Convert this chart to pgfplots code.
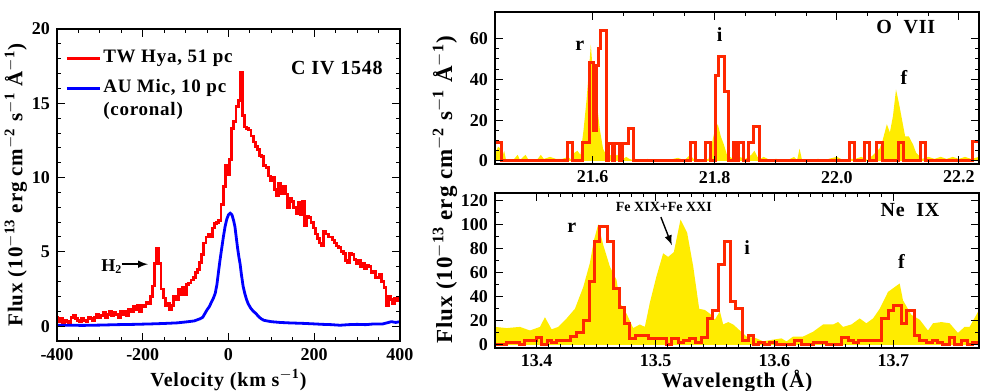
\documentclass[border=0pt]{standalone}
\usepackage{fontspec}
\setmainfont{Liberation Serif}
\usepackage{pgfplots}
\pgfplotsset{compat=1.18}
\definecolor{hred}{RGB}{255,0,0}
\definecolor{hblue}{RGB}{0,0,255}
\definecolor{xred}{RGB}{255,40,0}
\definecolor{xyel}{RGB}{255,236,0}
\newcommand{\lblfont}[1]{\fontsize{#1}{#1}\selectfont\bfseries\addfontfeature{LetterSpace=4}}
\pgfplotsset{idl/.style={scale only axis, anchor=south west, axis on top,
  tick align=inside, xtick pos=both, ytick pos=both,
  xticklabel pos=bottom, yticklabel pos=left,
  major tick length=4pt, minor tick length=2pt,
  every tick/.style={black, line width=0.5pt},
  axis line style={line width=0.7pt},
  /pgf/number format/assume math mode=true,
  ticklabel style={font=\fontsize{9}{10}\selectfont\bfseries},
  clip=true}}
\begin{document}
\begin{tikzpicture}
\useasboundingbox (0,0) rectangle (490.5pt,195.5pt);
% ---------------- left panel -------------
\begin{axis}[idl, at={(28.5pt,25pt)}, width=171.5pt, height=156pt,
  xmin=-400, xmax=400, ymin=-1, ymax=20,
  xtick={-400,-200,...,400}, minor x tick num=3,
  ytick={0,5,...,20}, minor y tick num=4,
  xlabel={Velocity (km s$^{\mathbf{-1}}$)},
  ylabel={Flux (10$^{\mathbf{-13}}$ erg cm$^{\mathbf{-2}}$ s$^{\mathbf{-1}}$ Å$^{\mathbf{-1}}$)},
  every axis x label/.style={at={(axis description cs:0.5,0)}, anchor=center, yshift=-19.5pt, font=\lblfont{10}},
  every axis y label/.style={at={(axis description cs:-0.12,0.5)}, anchor=center, rotate=90, font=\lblfont{10.5}}]
\addplot[const plot mark mid, hred, line width=1.4pt] coordinates {
(-400,0.6)(-395,0.3)(-390,0.5)(-385,0.2)(-380,0.4)(-375,0.3)(-370,0.2)(-365,0.6)(-360,0.7)(-355,0.5)
(-350,0.4)(-345,0.3)(-340,0.5)(-335,0.4)(-330,0.3)(-325,0.6)(-320,0.5)(-315,0.4)(-310,0.6)(-305,0.8)
(-300,0.6)(-295,0.7)(-290,0.9)(-285,0.6)(-280,0.8)(-275,1.0)(-270,0.7)(-265,0.9)(-260,0.8)(-255,0.6)
(-250,1.0)(-245,0.8)(-240,1.0)(-235,0.7)(-230,1.1)(-225,1.0)(-220,1.3)(-215,1.1)(-210,1.4)(-205,1.0)
(-200,1.4)(-195,1.3)(-190,1.6)(-185,1.5)(-180,2.0)(-175,2.7)(-170,4.2)(-165,5.2)(-160,4.2)(-155,2.5)
(-150,1.9)(-145,1.4)(-140,1.5)(-135,1.1)(-130,1.4)(-125,2.0)(-120,1.8)(-115,2.5)(-110,2.1)(-105,2.6)
(-100,2.1)(-95,2.8)(-90,2.9)(-85,3.1)(-80,3.3)(-75,3.6)(-70,3.8)(-65,4.3)(-60,4.8)(-55,5.6)
(-50,6.0)(-45,6.2)(-40,6.0)(-35,6.6)(-30,6.9)(-25,7.0)(-20,7.1)(-15,8.2)(-10,9.4)(-5,10.8)
(0,10.2)(5,11.2)(10,13.3)(15,13.8)(20,14.8)(25,15.2)(30,17.1)(35,14.2)(40,13.4)(45,13.3)
(50,13.2)(55,12.8)(60,12.4)(65,12.1)(70,11.9)(75,11.5)(80,11.4)(85,10.8)(90,10.7)(95,10.1)
(100,9.8)(105,10.0)(110,9.2)(115,8.8)(120,9.6)(125,8.9)(130,9.4)(135,8.9)(140,8.0)(145,8.6)
(150,8.4)(155,8.0)(160,7.6)(165,8.3)(170,7.5)(175,8.4)(180,6.8)(185,7.4)(190,7.3)(195,7.0)
(200,6.6)(205,6.2)(210,5.9)(215,5.6)(220,5.4)(225,6.4)(230,6.2)(235,6.0)(240,6.0)(245,5.8)
(250,5.6)(255,5.4)(260,5.3)(265,5.0)(270,4.9)(275,4.4)(280,4.3)(285,4.9)(290,4.8)(295,4.5)
(300,4.2)(305,4.4)(310,4.0)(315,4.2)(320,3.9)(325,4.1)(330,4.0)(335,3.6)(340,3.7)(345,3.3)
(350,3.3)(355,3.5)(360,3.0)(365,2.6)(370,1.4)(375,2.0)(380,1.8)(385,1.5)(390,1.9)(395,1.7)(400,1.9)};
\addplot[hblue, line width=1.4pt] coordinates {
(-400,0.05)(-370,0.06)(-340,0.05)(-300,0.07)(-260,0.1)(-220,0.12)(-180,0.15)(-150,0.18)(-120,0.22)
(-100,0.28)(-80,0.35)(-66,0.5)(-60,0.6)(-55,0.85)(-50,1.1)(-45,1.3)(-40,1.6)(-35,1.9)(-31,2.2)
(-27,2.8)(-24,3.5)(-20,4.4)(-16,5.2)(-12,6.0)(-8,6.7)(-4,7.2)(0,7.5)(4,7.6)(8,7.5)(12,7.1)(15,6.7)
(18,6.0)(21,5.3)(24,4.7)(27,4.2)(30,3.5)(34,2.7)(38,2.2)(42,1.8)(46,1.5)(52,1.2)(58,1.0)(64,0.85)
(70,0.65)(76,0.5)(82,0.4)(90,0.35)(100,0.3)(120,0.25)(140,0.22)(160,0.2)(180,0.18)(200,0.15)
(220,0.12)(240,0.1)(260,0.06)(280,0.1)(300,0.12)(320,0.1)(340,0.15)(360,0.15)(380,0.3)(390,0.25)(400,0.3)};
\draw[hred, line width=1.4pt] (axis cs:-377,18.0) -- (axis cs:-300,18.0);
\draw[hblue, line width=1.4pt] (axis cs:-377,16.0) -- (axis cs:-300,16.0);
\node[anchor=west, inner sep=0pt, font=\lblfont{9.5}] at (axis cs:-293,18.0) {TW Hya, 51 pc};
\node[anchor=west, inner sep=0pt, font=\lblfont{9.5}] at (axis cs:-293,16.0) {AU Mic, 10 pc};
\node[anchor=west, inner sep=0pt, font=\lblfont{9.5}] at (axis cs:-293,14.5) {(coronal)};
\node[inner sep=0pt, font=\lblfont{10}] at (axis cs:253,17.4) {C IV 1548};
\node[inner sep=0pt, font=\fontsize{9}{11}\selectfont\bfseries] at (axis cs:-272,4.0) {H$_{\mathbf 2}$};
\draw[-latex, line width=0.7pt] (axis cs:-249,4.17) -- (axis cs:-188,4.17);
\end{axis}
% ---------------- upper right -------------
\begin{axis}[idl, at={(247.5pt,113.5pt)}, width=242pt, height=76pt,
  xmin=21.44, xmax=22.233, ymin=-1.5, ymax=73,
  xtick={21.6,21.8,22.0,22.2}, minor x tick num=3,
  ytick={0,20,40,60}, minor y tick num=3,
  xticklabel style={/pgf/number format/.cd, fixed, fixed zerofill, precision=1}]
\addplot[fill=xyel, draw=none] coordinates {
(21.440,3)(21.445,7)(21.449,6)(21.452,2)(21.455,5)(21.458,0.5)(21.470,0.5)(21.477,3)(21.481,0.5)
(21.490,3)(21.495,0.5)(21.510,1)(21.515,3)(21.520,1)(21.530,2)(21.540,1)(21.550,1)(21.560,2)
(21.565,0.5)(21.570,4)(21.575,5)(21.580,3)(21.585,15)(21.590,30)(21.594,45)(21.597,57)(21.600,45)
(21.604,35)(21.607,28)(21.612,15)(21.617,6)(21.622,3)(21.628,3)(21.634,2)(21.640,3)(21.645,1.5)
(21.650,1)(21.655,2)(21.660,1)(21.665,0.5)(21.670,1)(21.680,0.3)(21.690,1)(21.700,0.3)(21.720,0.3)
(21.740,1.5)(21.750,0.3)(21.760,3)(21.765,1)(21.770,1)(21.780,0.5)(21.790,1)(21.795,8)(21.800,15)
(21.805,18)(21.810,12)(21.815,8)(21.820,3)(21.825,2)(21.830,1)(21.840,2)(21.850,1)(21.860,3)
(21.865,5)(21.870,2)(21.875,1)(21.880,2)(21.890,0.5)(21.900,1)(21.920,0.5)(21.930,2)(21.935,0.5)
(21.939,6)(21.943,0.5)(21.950,0.5)(21.970,1)(21.980,0.5)(22.000,2)(22.010,0.5)(22.020,1)(22.030,1)
(22.040,2)(22.050,0.5)(22.060,3)(22.070,6)(22.075,10)(22.082,18)(22.087,14)(22.092,22)(22.097,35)
(22.102,28)(22.107,20)(22.112,12)(22.118,12)(22.125,8)(22.130,4)(22.140,1)(22.150,2)(22.160,1)
(22.170,2)(22.180,1)(22.190,2)(22.200,1)(22.210,2)(22.220,1)(22.233,2)} \closedcycle;
\addplot[const plot, xred, line width=1.5pt] coordinates {
(21.440,9)(21.451,0)(21.558,9)(21.5667,0)(21.583,9)(21.594,48)(21.6016,15)(21.607,47)(21.610,55)
(21.6136,64)(21.6224,0)(21.6267,8.5)(21.6333,0)(21.636,8.5)(21.6443,0)(21.6487,8.5)(21.658,16)(21.6672,0)
(21.760,9)(21.768,0)(21.7847,9)(21.7929,0)(21.8005,42)(21.8055,51)(21.8164,34)(21.823,0)
(21.830,9)(21.836,0)(21.8385,9)(21.8475,0)(21.8546,9)(21.864,17)(21.8726,0)
(22.0202,9)(22.0295,0)(22.0448,9)(22.054,0)(22.065,9)(22.0743,0)(22.1005,9)(22.1087,0)
(22.1366,9)(22.1453,0)(22.2225,9.5)(22.233,9.5)};
\node[inner sep=0pt, font=\lblfont{10}] at (axis cs:22.113,65.4) {O\ \ VII};
\node[inner sep=0pt, font=\lblfont{10}] at (axis cs:21.579,56.6) {r};
\node[inner sep=0pt, font=\lblfont{10}] at (axis cs:21.808,62) {i};
\node[inner sep=0pt, font=\lblfont{10}] at (axis cs:22.110,41) {f};
\end{axis}
% ---------------- lower right -------------
\begin{axis}[idl, at={(247.5pt,21.5pt)}, width=242pt, height=77.5pt,
  xmin=13.365, xmax=13.772, ymin=-2.5, ymax=126,
  xtick={13.4,13.5,13.6,13.7}, minor x tick num=9,
  ytick={0,20,...,120}, minor y tick num=1,
  xticklabel style={/pgf/number format/.cd, fixed, fixed zerofill, precision=1},
  xlabel={Wavelength (Å)},
  every axis x label/.style={at={(axis description cs:0.5,0)}, anchor=center, yshift=-16.5pt, font=\lblfont{10.5}}]
\addplot[fill=xyel, draw=none] coordinates {
(13.365,15)(13.3748,14)(13.386,15)(13.3944,12)(13.4028,15)(13.407,23)(13.4126,13)(13.4182,15)
(13.4252,22)(13.4322,30)(13.4392,48)(13.4448,68)(13.4482,87)(13.4518,100)(13.456,83)(13.4616,65)
(13.4672,54)(13.470,35)(13.4756,26)(13.4812,14)(13.4868,17)(13.491,15)(13.4952,35)(13.5008,57)
(13.5064,76)(13.5106,73)(13.5154,77)(13.521,104)(13.5266,93)(13.5317,65)(13.5367,30)(13.5415,29)
(13.5457,26)(13.5499,21)(13.5541,28)(13.5569,17)(13.5611,19)(13.5653,17)(13.5709,12)(13.5765,7)
(13.5849,5.5)(13.5905,3)(13.5961,4)(13.6059,5.5)(13.6101,3)(13.6157,7)(13.6241,7)(13.6325,11)
(13.6409,17)(13.6493,17)(13.6535,19)(13.6577,15)(13.6647,17)(13.6717,22)(13.6773,18)(13.6829,22)
(13.6885,30)(13.6955,44)(13.7053,51)(13.7081,37)(13.7151,25)(13.7221,21)(13.7291,12)(13.7333,18)
(13.7403,19)(13.7473,18)(13.7543,10)(13.7599,15)(13.7641,15)(13.772,29)} \closedcycle;
\addplot[const plot, xred, line width=1.5pt] coordinates {
(13.365,0)(13.3748,2)(13.3854,0)(13.3894,4)(13.400,6)(13.4042,0)(13.409,4)(13.4126,2)(13.4168,4)
(13.4196,4)(13.4289,7)(13.4336,10)(13.4392,20)(13.4443,53)(13.449,86)(13.4532,98)(13.4594,86)
(13.465,47)(13.4695,31)(13.4742,18)(13.4784,5)(13.4832,8)(13.4938,5)(13.5022,5)(13.5092,0)
(13.5134,5)(13.519,2)(13.5232,4)(13.5289,5)(13.5339,2)(13.5387,6)(13.5434,22)(13.5479,29)
(13.5527,67)(13.5577,86)(13.5633,36)(13.5675,30)(13.5731,4)(13.5779,8)(13.5821,0)(13.5863,2)
(13.5919,0)(13.5961,2)(13.6017,0)(13.6171,4)(13.6227,0)(13.6325,2)(13.6437,0)(13.6563,6)
(13.6619,4)(13.6661,2)(13.6703,4)(13.6899,22)(13.6955,29)(13.6997,33)(13.7067,18)(13.7109,29)
(13.7179,8)(13.7221,4)(13.7277,2)(13.7333,4)(13.7375,2)(13.7417,0)(13.7473,6)(13.7515,0)
(13.7571,4)(13.7627,0)(13.7669,2)(13.772,2)};
\node[inner sep=0pt, font=\lblfont{10}] at (axis cs:13.714,111.8) {Ne\ \ IX};
\node[inner sep=0pt, font=\lblfont{10}] at (axis cs:13.4295,96.9) {r};
\node[inner sep=0pt, font=\fontsize{7}{8}\selectfont\bfseries] at (axis cs:13.507,114.2) {Fe XIX+Fe XXI};
\draw[-latex, line width=0.7pt] (axis cs:13.5045,106) -- (axis cs:13.5137,82.8);
\node[inner sep=0pt, font=\lblfont{10}] at (axis cs:13.577,81.1) {i};
\node[inner sep=0pt, font=\lblfont{10}] at (axis cs:13.7067,69.5) {f};
\end{axis}
\node[rotate=90, anchor=center, font=\lblfont{11.5}] at (222.5pt,100.5pt)
  {Flux (10$^{\mathbf{-13}}$ erg cm$^{\mathbf{-2}}$ s$^{\mathbf{-1}}$ Å$^{\mathbf{-1}}$)};
\end{tikzpicture}
\end{document}
